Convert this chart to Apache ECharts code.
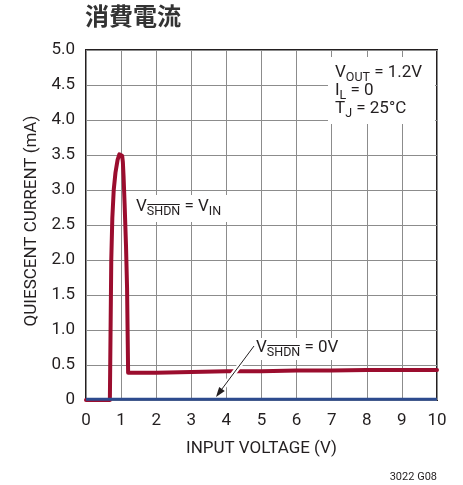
<!DOCTYPE html>
<html>
<head>
<meta charset="utf-8">
<script src="https://cdn.jsdelivr.net/npm/echarts@6/dist/echarts.min.js"></script>
<style>
  html, body { margin: 0; padding: 0; background: #fff; }
  #chart { width: 463px; height: 485px; }
</style>
</head>
<body>
<div id="chart"></div>
<script>
// Quiescent current vs input voltage
const xTicks = [0, 1, 2, 3, 4, 5, 6, 7, 8, 9, 10];
const yTicks = [0, 0.5, 1.0, 1.5, 2.0, 2.5, 3.0, 3.5, 4.0, 4.5, 5.0];

// V_SHDN = V_IN curve (input voltage V, current mA)
const vinOn = [0, 0.68, 0.70, 0.72, 0.75, 0.79, 0.84, 0.90, 0.95, 0.99, 1.03, 1.05, 1.07, 1.10, 1.14, 1.17, 1.19, 1.20, 2, 3, 4, 5, 6, 7, 8, 9, 10];
const iqOn  = [0, 0, 1.0, 2.0, 2.6, 3.0, 3.25, 3.43, 3.51, 3.53, 3.49, 3.40, 3.2, 2.8, 2.2, 1.6, 0.8, 0.39, 0.39, 0.40, 0.41, 0.41, 0.42, 0.42, 0.43, 0.43, 0.43];

// V_SHDN = 0V curve
const vinOff = [0, 10];
const iqOff  = [0.012, 0.012];

const FONT = 'Roboto, "Liberation Sans", sans-serif';
const RED = '#9b0d2e';
const BLUE = '#2d4b8e';
const INK = '#231f20';

const chart = echarts.init(document.getElementById('chart'), null, { renderer: 'canvas' });

const measure = document.createElement('canvas').getContext('2d');
function textW(str, size) {
  measure.font = size + 'px ' + FONT;
  return measure.measureText(str).width;
}

// Draws a run of normal / subscript text; subscripts may carry an overline.
function textRun(x, yMid, parts, base, sub) {
  base = base || 17; sub = sub || 12.5;
  const els = [];
  let cx = x;
  parts.forEach(p => {
    const size = p.sub ? sub : base;
    const y = p.sub ? yMid + 4.5 : yMid;
    els.push({
      type: 'text', z: 20,
      style: { text: p.t, x: cx, y: y, font: size + 'px ' + FONT, fill: INK, align: 'left', verticalAlign: 'middle' }
    });
    const w = textW(p.t, size);
    if (p.over) {
      els.push({
        type: 'line', z: 20,
        shape: { x1: cx + 0.5, y1: yMid - 2.5, x2: cx + w - 0.5, y2: yMid - 2.5 },
        style: { stroke: INK, lineWidth: 1 }
      });
    }
    cx += w;
  });
  return els;
}

function box(x, y, w, h) {
  return { type: 'rect', z: 15, shape: { x: x, y: y, width: w, height: h }, style: { fill: '#fff' } };
}

const option = {
  animation: false,
  backgroundColor: '#fff',
  title: {
    text: '消費電流',
    left: 80, top: -1,
    textStyle: { fontFamily: '"Noto Sans CJK JP", sans-serif', fontWeight: 'bold', fontSize: 24, color: '#333' }
  },
  grid: {
    left: 86, right: 26, top: 50, bottom: 85,
    show: true, borderColor: INK, borderWidth: 2, backgroundColor: 'transparent'
  },
  xAxis: {
    type: 'value', min: xTicks[0], max: xTicks[xTicks.length - 1], interval: 1,
    name: 'INPUT VOLTAGE (V)', nameLocation: 'middle', nameGap: 40,
    nameTextStyle: { fontFamily: FONT, fontSize: 17, color: INK },
    axisLine: { show: false }, axisTick: { show: false },
    axisLabel: { fontFamily: FONT, fontSize: 17, color: INK, margin: 12 },
    splitLine: { show: true, lineStyle: { color: '#8c8c8c', width: 1 } }
  },
  yAxis: {
    type: 'value', min: yTicks[0], max: yTicks[yTicks.length - 1], interval: 0.5,
    axisLine: { show: false }, axisTick: { show: false },
    axisLabel: {
      fontFamily: FONT, fontSize: 17, color: INK, margin: 11,
      formatter: v => (v === 0 ? '0' : v.toFixed(1))
    },
    splitLine: { show: true, lineStyle: { color: '#8c8c8c', width: 1 } }
  },
  series: [
    {
      name: 'VSHDN = VIN', type: 'line', symbol: 'none', z: 3,
      lineStyle: { color: RED, width: 4, join: 'round', cap: 'round' },
      data: vinOn.map((v, i) => [v, iqOn[i]])
    },
    {
      name: 'VSHDN = 0V', type: 'line', symbol: 'none', z: 4,
      lineStyle: { color: BLUE, width: 3 },
      data: vinOff.map((v, i) => [v, iqOff[i]])
    }
  ]
};

chart.setOption(option);

// Annotations
const g = [];
// y-axis title
g.push({
  type: 'text', z: 20, x: 32, y: 221, rotation: Math.PI / 2,
  style: { text: 'QUIESCENT CURRENT (mA)', x: 0, y: 0, font: '17px ' + FONT, fill: INK, align: 'center', verticalAlign: 'middle' }
});
// conditions block
g.push(box(328, 57, 107, 67));
g.push(...textRun(335, 73, [{ t: 'V' }, { t: 'OUT', sub: true }, { t: ' = 1.2V' }]));
g.push(...textRun(335, 91, [{ t: 'I' }, { t: 'L', sub: true }, { t: ' = 0' }]));
g.push(...textRun(335, 109, [{ t: 'T' }, { t: 'J', sub: true }, { t: ' = 25°C' }]));
// V_SHDN = V_IN label
g.push(box(131, 195, 106, 27));
g.push(...textRun(136, 207, [{ t: 'V' }, { t: 'SHDN', sub: true, over: true }, { t: ' = V' }, { t: 'IN', sub: true }]));
// V_SHDN = 0V label
g.push(box(254, 338, 94, 22));
g.push(...textRun(256, 348, [{ t: 'V' }, { t: 'SHDN', sub: true, over: true }, { t: ' = 0V' }]));

// pointer from the 0V label to the lower trace
const ax = 254, ay = 346, bx = 216, by = 397;
const ang = Math.atan2(by - ay, bx - ax);
const hl = 10, hw = 3.5;
const baseX = bx - hl * Math.cos(ang), baseY = by - hl * Math.sin(ang);
g.push({ type: 'line', z: 18, shape: { x1: ax, y1: ay, x2: baseX, y2: baseY }, style: { stroke: '#fff', lineWidth: 5 } });
g.push({ type: 'line', z: 19, shape: { x1: ax, y1: ay, x2: baseX, y2: baseY }, style: { stroke: INK, lineWidth: 1 } });
g.push({
  type: 'polygon', z: 19,
  shape: { points: [
    [bx, by],
    [baseX + hw * Math.sin(ang), baseY - hw * Math.cos(ang)],
    [baseX - hw * Math.sin(ang), baseY + hw * Math.cos(ang)]
  ] },
  style: { fill: INK }
});
// figure code
g.push({
  type: 'text', z: 20,
  style: { text: '3022 G08', x: 437, y: 477, font: '11px ' + FONT, fill: INK, align: 'right', verticalAlign: 'middle' }
});

chart.setOption({ graphic: { elements: g } });
</script>
</body>
</html>
